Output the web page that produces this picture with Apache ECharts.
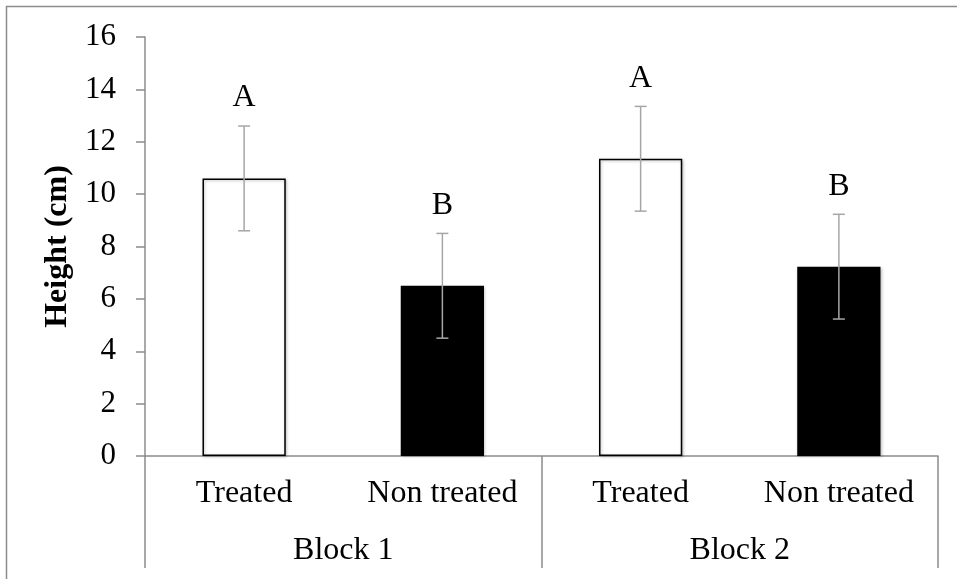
<!DOCTYPE html>
<html>
<head>
<meta charset="utf-8">
<script src="https://cdn.jsdelivr.net/npm/echarts@6/dist/echarts.min.js"></script>
<style>
html,body{margin:0;padding:0;background:#fff;}
#chart{width:957px;height:579px;}
</style>
</head>
<body>
<div id="chart"></div>
<script>
const categories = ['Treated', 'Non treated', 'Treated', 'Non treated'];
const blocks = ['Block 1', 'Block 2'];
const means = [10.6, 6.5, 11.35, 7.23];
const sds = [2.0, 2.0, 2.0, 2.0];
const letters = ['A', 'B', 'A', 'B'];
const yTicks = { min: 0, max: 16, interval: 2 };

const FONT = 'Liberation Serif, Times New Roman, serif';
const AXIS = '#8c8c8c';

const barData = means.map((m, i) => ({
  value: m,
  itemStyle: i % 2 === 0
    ? { color: '#ffffff', borderColor: '#000000', borderWidth: 1.5, shadowColor: 'rgba(0,0,0,0.25)', shadowBlur: 3, shadowOffsetX: 1, shadowOffsetY: 1 }
    : { color: '#000000', borderColor: '#000000', borderWidth: 0, shadowColor: 'rgba(0,0,0,0.25)', shadowBlur: 3, shadowOffsetX: 1, shadowOffsetY: 1 }
}));
const errData = means.map((m, i) => [i, m, sds[i]]);

const chart = echarts.init(document.getElementById('chart'));
chart.setOption({
  backgroundColor: '#ffffff',
  animation: false,
  graphic: [{
    type: 'rect',
    shape: { x: 6.5, y: 6.5, width: 1000, height: 1000 },
    style: { fill: 'none', stroke: AXIS, lineWidth: 1.5 },
    silent: true
  }],
  grid: { left: 145, right: 19, top: 37, bottom: 123, containLabel: false },
  xAxis: [{
    type: 'category',
    data: categories,
    position: 'bottom',
    axisLine: { show: true, lineStyle: { color: AXIS, width: 1.5 } },
    axisTick: { show: false },
    axisLabel: { color: '#000', fontFamily: FONT, fontSize: 32, margin: 22, interval: 0 }
  }, {
    type: 'category',
    data: blocks,
    position: 'bottom',
    axisLine: { show: false },
    axisTick: { show: true, length: 112, lineStyle: { color: AXIS, width: 1.5 } },
    axisLabel: { color: '#000', fontFamily: FONT, fontSize: 32, margin: 79, interval: 0 }
  }],
  yAxis: {
    type: 'value',
    min: yTicks.min, max: yTicks.max, interval: yTicks.interval,
    name: 'Height (cm)',
    nameLocation: 'middle',
    nameGap: 70,
    nameRotate: 90,
    nameTextStyle: { color: '#000', fontFamily: FONT, fontSize: 32, fontWeight: 'bold' },
    axisLine: { show: true, lineStyle: { color: AXIS, width: 1.5 } },
    axisTick: { show: true, length: 9, lineStyle: { color: AXIS, width: 1.5 } },
    axisLabel: { color: '#000', fontFamily: FONT, fontSize: 31, margin: 29 },
    splitLine: { show: false }
  },
  series: [{
    type: 'bar',
    xAxisIndex: 0,
    data: barData,
    barWidth: '42%'
  }, {
    type: 'custom',
    xAxisIndex: 0,
    z: 5,
    data: errData,
    renderItem: function (params, api) {
      const i = api.value(0), m = api.value(1), s = api.value(2);
      const top = api.coord([i, m + s]);
      const bot = api.coord([i, m - s]);
      const cap = 6;
      const st = { stroke: '#a6a6a6', lineWidth: 1.5 };
      return {
        type: 'group',
        children: [
          { type: 'line', shape: { x1: top[0], y1: top[1], x2: bot[0], y2: bot[1] }, style: st },
          { type: 'line', shape: { x1: top[0] - cap, y1: top[1], x2: top[0] + cap, y2: top[1] }, style: st },
          { type: 'line', shape: { x1: bot[0] - cap, y1: bot[1], x2: bot[0] + cap, y2: bot[1] }, style: st },
          { type: 'text', style: { text: letters[i], x: top[0], y: top[1] - 12, align: 'center', verticalAlign: 'bottom', font: '32px ' + FONT, fill: '#000' } }
        ]
      };
    }
  }]
});
</script>
</body>
</html>
